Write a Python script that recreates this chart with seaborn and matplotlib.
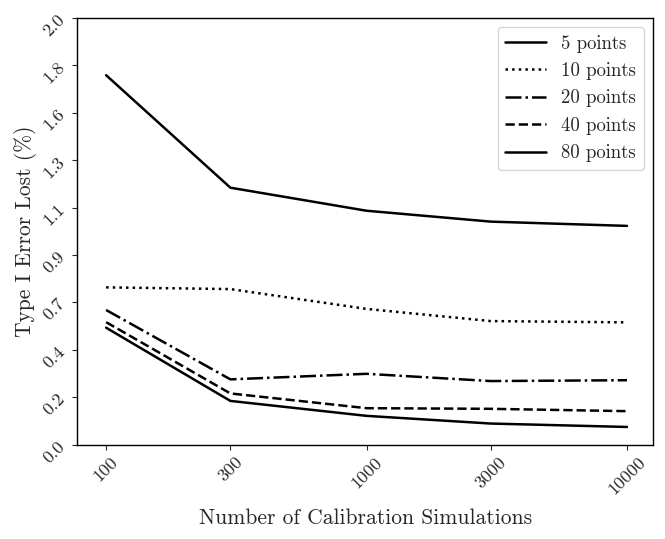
# Type I error lost vs number of calibration simulations, one line per grid size

import pandas as pd
import numpy as np
import seaborn as sns
from matplotlib import pyplot as plt
from matplotlib.ticker import FormatStrFormatter, NullLocator

# calibration simulation counts (x axis)
n_sims = [100, 300, 1000, 3000, 10000]

# type I error lost (%) for each number of grid points
err_5 = [1.731, 1.204, 1.096, 1.045, 1.025]
err_10 = [0.737, 0.729, 0.636, 0.579, 0.573]
err_20 = [0.631, 0.306, 0.332, 0.298, 0.302]
err_40 = [0.574, 0.240, 0.171, 0.168, 0.157]
err_80 = [0.548, 0.205, 0.135, 0.099, 0.083]

series_labels = ["5 points", "10 points", "20 points", "40 points", "80 points"]

# long format table for seaborn
rows = []
for lab, vals in zip(series_labels, [err_5, err_10, err_20, err_40, err_80]):
    for x, y in zip(n_sims, vals):
        rows.append({"sims": x, "err": y, "grid": lab})
df = pd.DataFrame(rows)

sns.set_style("ticks")
plt.rcParams["font.family"] = "serif"
plt.rcParams["font.serif"] = ["cmr10", "DejaVu Serif"]
plt.rcParams["mathtext.fontset"] = "cm"
plt.rcParams["axes.formatter.use_mathtext"] = True

fig = plt.figure(figsize=(6.65, 5.39), dpi=100)
ax = fig.add_axes([0.116, 0.175, 0.866, 0.792])

# solid, dotted, dashdot, dashed, solid
dash_styles = ["", (1, 1.65), (6.4, 1.6, 1, 1.6), (3.7, 1.6), ""]

sns.lineplot(data=df, x="sims", y="err", style="grid", dashes=dash_styles,
             color="black", linewidth=1.8, ax=ax)

ax.set_xscale("log")
ax.set_xticks(n_sims)
ax.set_xticklabels([str(v) for v in n_sims], rotation=45, fontsize=13)
ax.xaxis.set_minor_locator(NullLocator())
ax.set_xlim(77.4, 12590)

ax.set_ylim(0, 2.0)
ax.set_yticks(np.linspace(0, 2.0, 10))
ax.yaxis.set_major_formatter(FormatStrFormatter("%.1f"))
plt.setp(ax.get_yticklabels(), rotation=45, fontsize=13)

ax.set_xlabel("Number of Calibration Simulations", fontsize=15.5, labelpad=8)
ax.set_ylabel("Type I Error Lost (%)", fontsize=15.5, labelpad=2)

for sp in ax.spines.values():
    sp.set_linewidth(1.0)
    sp.set_color("black")

ax.legend(loc="upper right", fontsize=13.5, title=None, handlelength=2.2)

fig.savefig("out.png", dpi=100)
